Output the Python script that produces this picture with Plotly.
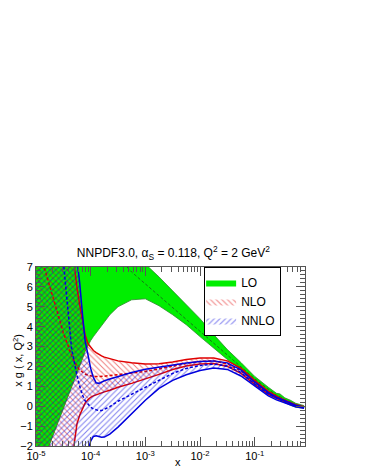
import plotly.graph_objects as go

# x grid shared by all curves
x = [1e-5, 1.78e-5, 3.16e-5, 4.47e-5, 5.0e-5, 5.6e-5, 6.3e-5, 7.1e-5, 7.9e-5, 8.9e-5,
     1e-4, 1.12e-4, 1.26e-4, 1.41e-4, 1.58e-4, 1.78e-4, 2.24e-4, 3.16e-4, 5.6e-4, 1e-3,
     1.78e-3, 3.16e-3, 5.6e-3, 1e-2, 1.78e-2, 3.16e-2, 5.6e-2, 0.1, 0.178, 0.25,
     0.29, 0.355, 0.45, 0.56, 0.8]

# LO
lo_up = [16, 14.5, 13, 12.2, 12, 11.7, 11.4, 11.1, 10.8, 10.5,
         10.2, 10, 9.8, 9.6, 9.4, 9.2, 8.9, 8.4, 7.7, 7.15,
         6.5, 5.8, 5.1, 4.4, 3.6, 2.85, 2.2, 1.5, 0.95, 0.65,
         0.62, 0.42, 0.3, 0.15, 0.03]
lo_cv = [12, 11.2, 10.5, 10.1, 10, 9.8, 9.7, 9.5, 9.4, 9.2,
         9.0, 8.85, 8.7, 8.55, 8.4, 8.25, 7.95, 7.45, 6.75, 6.15,
         5.55, 4.95, 4.35, 3.75, 3.15, 2.55, 2.0, 1.38, 0.85, 0.55,
         0.48, 0.33, 0.2, 0.08, -0.02]
lo_dn = [-3.7, -1.93, -0.13, 0.95, 1.31, 1.67, 2.03, 2.39, 2.75, 3.05,
         3.3, 3.5, 3.68, 3.85, 4.05, 4.25, 4.6, 5.0, 5.35, 5.4,
         5.05, 4.6, 4.1, 3.5, 2.9, 2.35, 1.85, 1.2, 0.65, 0.4,
         0.3, 0.18, 0.05, -0.05, -0.1]

# NLO
nlo_up = [30, 20, 12, 8.2, 7.0, 6.0, 5.1, 4.3, 3.6, 3.15,
          2.95, 2.8, 2.7, 2.6, 2.53, 2.47, 2.38, 2.28, 2.18, 2.12,
          2.13, 2.22, 2.35, 2.43, 2.42, 2.28, 1.92, 1.3, 0.75, 0.5,
          0.42, 0.3, 0.18, 0.08, -0.02]
nlo_cv = [8.4, 6.0, 3.7, 2.55, 2.25, 2.0, 1.82, 1.7, 1.62, 1.56,
          1.52, 1.5, 1.49, 1.49, 1.5, 1.51, 1.54, 1.58, 1.65, 1.75,
          1.88, 2.02, 2.15, 2.25, 2.28, 2.12, 1.78, 1.2, 0.68, 0.45,
          0.37, 0.26, 0.15, 0.05, -0.05]
nlo_dn = [-12, -8.5, -5, -2.8, -1.9, -0.9, -0.45, -0.1, 0.15, 0.32,
          0.45, 0.52, 0.58, 0.64, 0.68, 0.72, 0.8, 0.95, 1.15, 1.37,
          1.6, 1.85, 2.02, 2.12, 2.15, 2.0, 1.65, 1.1, 0.6, 0.4,
          0.32, 0.22, 0.12, 0.02, -0.08]

# NNLO
nnlo_up = [25, 16, 11, 9, 8.2, 7.4, 6.2, 4.6, 3.3, 2.6,
           1.9, 1.45, 1.18, 1.15, 1.22, 1.28, 1.37, 1.5, 1.7, 1.86,
           1.97, 2.07, 2.17, 2.25, 2.28, 2.18, 1.83, 1.22, 0.68, 0.45,
           0.38, 0.27, 0.15, 0.05, -0.05]
nnlo_cv = [19, 13, 7.3, 2.9, 2.2, 1.55, 1.0, 0.55, 0.28, 0.08,
           -0.05, -0.14, -0.19, -0.22, -0.22, -0.15, -0.02, 0.25, 0.6, 0.92,
           1.3, 1.65, 1.9, 2.05, 2.12, 2.02, 1.7, 1.12, 0.62, 0.4,
           0.33, 0.22, 0.12, 0.02, -0.06]
nnlo_dn = [-20, -15, -10, -7, -6, -5, -4.2, -3.4, -2.8, -2.3,
           -1.75, -1.52, -1.48, -1.52, -1.56, -1.55, -1.4, -1.05, -0.4, 0.3,
           0.9, 1.3, 1.58, 1.8, 1.92, 1.85, 1.52, 1.0, 0.52, 0.32,
           0.25, 0.15, 0.05, -0.03, -0.1]

fig = go.Figure()

# LO band (solid green)
fig.add_trace(go.Scatter(x=x + x[::-1], y=lo_up + lo_dn[::-1], fill='toself',
                         fillcolor='#00ee00', line=dict(width=0), mode='lines',
                         name='LO'))
for yy in (lo_up, lo_dn):
    fig.add_trace(go.Scatter(x=x, y=yy, mode='lines', showlegend=False,
                             line=dict(color='#2a8a2a', width=0.8)))
fig.add_trace(go.Scatter(x=x, y=lo_cv, mode='lines', showlegend=False,
                         line=dict(color='#205020', width=0.8, dash='3px,2px')))

# NLO band (red hatch) and NNLO band (blue hatch)
bands = [('NLO', nlo_up, nlo_cv, nlo_dn, '#e00000', '\\'),
         ('NNLO', nnlo_up, nnlo_cv, nnlo_dn, '#0000dd', '/')]
for name, up, cv, dn, col, shp in bands:
    fig.add_trace(go.Scatter(x=x + x[::-1], y=up + dn[::-1], fill='toself',
                             fillcolor='rgba(0,0,0,0)', line=dict(width=0), mode='lines',
                             fillpattern=dict(shape=shp, fgcolor=col, bgcolor='rgba(0,0,0,0)',
                                              size=4, solidity=0.25),
                             name=name))
    for yy in (up, dn):
        fig.add_trace(go.Scatter(x=x, y=yy, mode='lines', showlegend=False,
                                 line=dict(color=col, width=1.5)))
    fig.add_trace(go.Scatter(x=x, y=cv, mode='lines', showlegend=False,
                             line=dict(color=col, width=1.5, dash='3px,2px')))

# the page body adds an 8px margin, so the figure is 8px smaller than the window
font = 'Liberation Sans, Arial, sans-serif'
fig.update_layout(
    width=358, height=466,
    margin=dict(l=25, r=61, t=259, b=23),
    plot_bgcolor='white', paper_bgcolor='white',
    font=dict(family=font, size=11, color='black'),
    title=dict(text='NNPDF3.0, α<sub>S</sub> = 0.118, Q<sup>2</sup> = 2 GeV<sup>2</sup>',
               x=0.462, xanchor='center', y=1 - 245 / 466, yanchor='middle',
               font=dict(size=12)),
    legend=dict(x=0.625, y=1.0, xanchor='left', yanchor='top',
                bgcolor='white', bordercolor='black', borderwidth=1,
                font=dict(size=12), tracegroupgap=0, itemwidth=30,
                entrywidth=58, indentation=-4),
    showlegend=True,
)
fig.update_xaxes(type='log', range=[-5, -0.08],
                 tickvals=[1e-5, 1e-4, 1e-3, 1e-2, 1e-1],
                 ticktext=['10<sup>-5</sup>', '10<sup>-4</sup>', '10<sup>-3</sup>',
                           '10<sup>-2</sup>', '10<sup>-1</sup>'],
                 ticks='inside', ticklen=9, tickcolor='#555', showgrid=False,
                 zeroline=False, showline=True, linecolor='#555', mirror='allticks',
                 minor=dict(dtick='D1', ticks='inside', ticklen=5, tickcolor='#555'))
fig.update_yaxes(range=[-2, 7], dtick=1, ticks='inside', ticklen=9, tickcolor='#555',
                 showgrid=False, zeroline=False, showline=True, linecolor='#555',
                 mirror='allticks',
                 minor=dict(dtick=0.2, ticks='inside', ticklen=5, tickcolor='#555'))
fig.add_annotation(text='x g ( x, Q<sup>2</sup>)', xref='paper', yref='paper',
                   x=-0.066, y=0.478, textangle=-90, showarrow=False,
                   font=dict(size=11), xanchor='center', yanchor='middle')
fig.add_annotation(text='x', xref='paper', yref='paper', x=0.529, y=-0.087,
                   showarrow=False, font=dict(size=11), xanchor='center', yanchor='middle')

fig.write_html("out.html")
